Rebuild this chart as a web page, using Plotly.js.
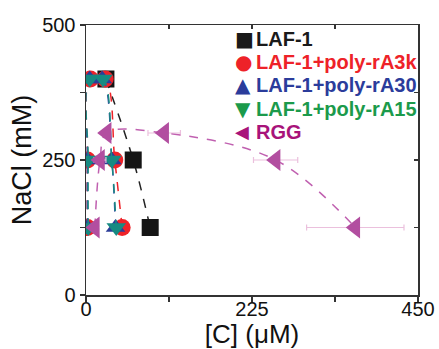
<!DOCTYPE html>
<html>
<head>
<meta charset="utf-8">
<script src="https://cdn.plot.ly/plotly-3.0.1.min.js"></script>
<style>html,body{margin:0;padding:0;background:#fff;}#chart{width:439px;height:349px;}</style>
</head>
<body>
<div id="chart"></div>
<script>
// Data (concentration in µM, NaCl in mM)
const seriesNames = ["LAF-1", "LAF-1+poly-rA3k", "LAF-1+poly-rA30", "LAF-1+poly-rA15", "RGG"];
const legendGlyphs = ["■", "●", "▲", "▼", "◀"];
const laf1_x = [27, 64, 87];
const laf1_y = [400, 250, 125];
const laf1_err = [3, 4, 10];
const rA3k_x = [2, 2, 6, 26, 39, 49];
const rA3k_y = [125, 250, 400, 400, 250, 125];
const rA3k_err = [1, 1, 2, 3, 3, 3];
const rA30_x = [2, 2, 5, 22, 35, 40];
const rA30_y = [125, 250, 400, 400, 250, 125];
const rA30_err = [1, 1, 2, 3, 3, 3];
const rA15_x = [3, 3, 5, 23, 35, 41];
const rA15_y = [125, 250, 400, 400, 250, 125];
const rA15_err = [1, 1, 2, 3, 3, 3];
const rgg_x = [12, 19, 28, 106, 257, 365];
const rgg_y = [125, 250, 300, 300, 250, 125];
const rgg_err = [5, 8, 5, 22, 30, 66];
const xTicks = [0, 112.5, 225, 337.5, 450];
const xTickText = ["0", "", "225", "", "450"];
const yTicks = [0, 125, 250, 375, 500];
const yTickText = ["0", "", "250", "", "500"];

const plotColors = ["#151515", "#ee2228", "#2b3d98", "#178a82", "#b24ea0"];
const lineColors = ["#222222", "#ee2228", "#3a4ca8", "#1a8a80", "#c060b0"];
const legendColors = ["#1a1a1a", "#ee2228", "#2b3c9b", "#1b9a4b", "#a8137a"];
const errColors = ["#aaaaaa", "#bbbbbb", "#bbbbbb", "#bbbbbb", "#ebc0dd"];
const symbols = ["square", "circle", "triangle-up", "triangle-down", "triangle-left"];
const sizes = [17, 17, 17, 17, 19];

const xs = [laf1_x, rA3k_x, rA30_x, rA15_x, rgg_x];
const ys = [laf1_y, rA3k_y, rA30_y, rA15_y, rgg_y];
const errs = [laf1_err, rA3k_err, rA30_err, rA15_err, rgg_err];

const traces = [];
for (let i = 0; i < 5; i++) {
  traces.push({
    x: xs[i], y: ys[i], type: "scatter", mode: "lines+markers", name: seriesNames[i],
    showlegend: false, hoverinfo: "skip",
    line: {color: lineColors[i], width: 1.5, dash: "dash", shape: "spline", smoothing: 1},
    marker: {symbol: symbols[i], size: sizes[i], color: plotColors[i], line: {width: 0}},
    error_x: {type: "data", array: errs[i], color: errColors[i], thickness: 1.2, width: 3}
  });
}
traces.push({x: [null], y: [null], xaxis: "x2", yaxis: "y2", showlegend: false, type: "scatter", mode: "markers", hoverinfo: "skip"});

// Legend drawn as annotations (paper coordinates)
const plotL = 86, plotW = 332, plotT = 25, plotH = 270;
const legX0 = 233, legTextX = 254, legY0 = 39, legDy = 23.2;
const annotations = [];
for (let i = 0; i < 5; i++) {
  const py = legY0 + i * legDy;
  const yp = 1 - (py - plotT) / plotH;
  annotations.push({
    xref: "paper", yref: "paper", x: (legX0 - plotL) / plotW, y: yp, xanchor: "left", yanchor: "middle",
    text: legendGlyphs[i], showarrow: false,
    font: {family: "DejaVu Sans", size: i === 4 ? 18 : 20, color: legendColors[i]}
  });
  annotations.push({
    xref: "paper", yref: "paper", x: (legTextX - plotL) / plotW, y: yp, xanchor: "left", yanchor: "middle",
    text: "<b>" + seriesNames[i] + "</b>", showarrow: false,
    font: {family: "Liberation Sans, Arial, sans-serif", size: 20, color: legendColors[i]}
  });
}

const axisFont = {family: "Liberation Sans, Arial, sans-serif", size: 20, color: "#111"};
const layout = {
  width: 439, height: 349,
  margin: {l: plotL, r: 21, t: plotT, b: 54},
  paper_bgcolor: "#fff", plot_bgcolor: "#fff",
  showlegend: false,
  annotations: annotations,
  xaxis: {
    range: [0, 450], tickmode: "array", tickvals: xTicks, ticktext: xTickText,
    ticks: "outside", ticklen: 5, tickwidth: 1.2, tickcolor: "#333",
    showline: true, linecolor: "#333", linewidth: 1.5, showgrid: false, zeroline: false,
    tickfont: axisFont, ticklabelstandoff: -10,
    title: {text: "[C] (μM)", font: {family: "Liberation Sans, Arial, sans-serif", size: 26, color: "#111"}, standoff: 6}
  },
  yaxis: {
    range: [0, 500], tickmode: "array", tickvals: yTicks, ticktext: yTickText,
    ticks: "outside", ticklen: 5, tickwidth: 1.2, tickcolor: "#333",
    showline: true, linecolor: "#333", linewidth: 1.5, showgrid: false, zeroline: false,
    tickfont: axisFont,
    title: {text: "NaCl (mM)", font: {family: "Liberation Sans, Arial, sans-serif", size: 27, color: "#111"}, standoff: 2}
  },
  xaxis2: {
    overlaying: "x", side: "top", range: [0, 450], tickmode: "array", tickvals: xTicks,
    ticks: "inside", ticklen: 4, tickwidth: 1.2, tickcolor: "#333", showticklabels: false,
    showline: true, linecolor: "#333", linewidth: 1.5, showgrid: false, zeroline: false
  },
  yaxis2: {
    overlaying: "y", side: "right", range: [0, 500], tickmode: "array", tickvals: yTicks,
    ticks: "inside", ticklen: 4, tickwidth: 1.2, tickcolor: "#333", showticklabels: false,
    showline: true, linecolor: "#333", linewidth: 1.5, showgrid: false, zeroline: false
  }
};
Plotly.newPlot("chart", traces, layout, {displayModeBar: false, staticPlot: true});
</script>
</body>
</html>
